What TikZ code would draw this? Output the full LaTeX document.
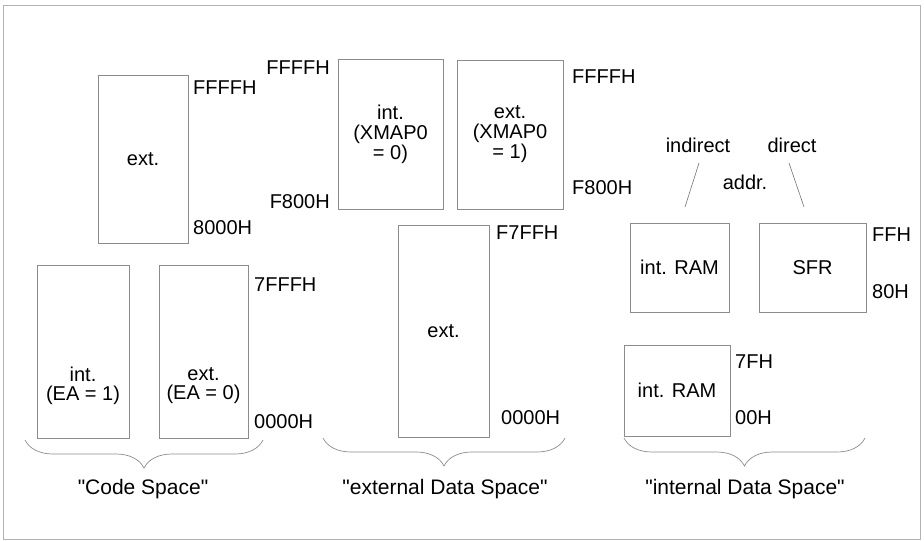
\documentclass[tikz,border=0pt]{standalone}
\usepackage{fontspec}
\setmainfont{Liberation Sans}[Ligatures=TeXOff]
\usetikzlibrary{decorations.pathreplacing}
\tikzset{membox/.style={draw=black!45, line width=0.7pt, inner sep=0pt, align=center, font=\fontsize{20}{20}\selectfont},
  boxtext/.style={inner sep=0pt, align=center, font=\fontsize{20}{19}\selectfont},
  addr/.style={inner sep=0pt, font=\fontsize{20}{20}\selectfont},
  spacebrace/.style={draw=black!45, line width=0.7pt, decorate, decoration={brace, mirror, amplitude=28pt}},
  spacelabel/.style={inner sep=0pt, font=\fontsize{21}{21}\selectfont}}

\begin{document}
\begin{tikzpicture}[x=1pt, y=-1pt]
  \useasboundingbox (0,0) rectangle (924,541);
  \draw[black!30, line width=0.6pt] (3,5) rectangle (920,539);
  % Code space
  \node[membox, minimum width=90pt, minimum height=168pt] (cext) at (143,159) {ext.};
  \node[membox, minimum width=92pt, minimum height=173pt] (cint) at (83,351.5) {};
  \node[membox, minimum width=89pt, minimum height=173pt] (cextlow) at (203.5,351.5) {};
  \node[boxtext] (cinttxt) at (83,386) {int.\\(EA = 1)};
  \node[boxtext] (cextlowtxt) at (203.5,386) {ext.\\(EA = 0)};
  \node[addr, anchor=west] (cffff) at (193,88) {FFFFH};
  \node[addr, anchor=west] (c8000) at (193,228) {8000H};
  \node[addr, anchor=west] (c7fff) at (254,285) {7FFFH};
  \node[addr, anchor=west] (c0000) at (254,422) {0000H};
  % external data space
  \node[membox, minimum width=105pt, minimum height=150pt] (xint) at (390.5,134) {int.\\(XMAP0\\= 0)};
  \node[membox, minimum width=106pt, minimum height=149pt] (xext) at (510,134.5) {ext.\\(XMAP0\\= 1)};
  \node[membox, minimum width=91pt, minimum height=212pt] (xlow) at (443.5,331) {ext.};
  \node[addr, anchor=east] (xffffl) at (330,68) {FFFFH};
  \node[addr, anchor=east] (xf800l) at (330,202) {F800H};
  \node[addr, anchor=west] (xffffr) at (572,77) {FFFFH};
  \node[addr, anchor=west] (xf800r) at (572,188) {F800H};
  \node[addr, anchor=west] (xf7ff) at (496,233) {F7FFH};
  \node[addr, anchor=west] (x0000) at (501,418) {0000H};
  % internal data space
  \node[addr] (indirect) at (698,145) {indirect};
  \node[addr] (direct) at (792,145) {direct};
  \node[addr] (addrtxt) at (745,182) {addr.};
  \node[membox, minimum width=99pt, minimum height=89pt] (iram) at (679.5,267.5) {int. RAM};
  \node[membox, minimum width=107pt, minimum height=89pt] (sfr) at (812.5,267.5) {SFR};
  \node[membox, minimum width=106pt, minimum height=91pt] (iramlow) at (677,390.5) {int. RAM};
  \node[addr, anchor=west] (iff) at (872,235) {FFH};
  \node[addr, anchor=west] (i80) at (872,292) {80H};
  \node[addr, anchor=west] (i7f) at (735,362) {7FH};
  \node[addr, anchor=west] (i00) at (735,418) {00H};
  \coordinate (ind1) at (699,163); \coordinate (ind2) at (685,207); \coordinate (dir1) at (789,163); \coordinate (dir2) at (804,207);
  \draw[black!55, line width=0.6pt] (ind1) -- (ind2) (dir1) -- (dir2);
  % Braces and names
  \coordinate (cl) at (25,440); \coordinate (cr) at (263,440); \coordinate (xl) at (323,438); \coordinate (xr) at (565,438); \coordinate (il) at (624,438); \coordinate (ir) at (865,438);
  \draw[spacebrace] (cl) -- (cr);
  \draw[spacebrace] (xl) -- (xr);
  \draw[spacebrace] (il) -- (ir);
  \node[spacelabel] (codespace) at (143,489) {"Code Space"};
  \node[spacelabel] (xdataspace) at (445,489) {"external Data Space"};
  \node[spacelabel] (idataspace) at (745,489) {"internal Data Space"};
\end{tikzpicture}
\end{document}
